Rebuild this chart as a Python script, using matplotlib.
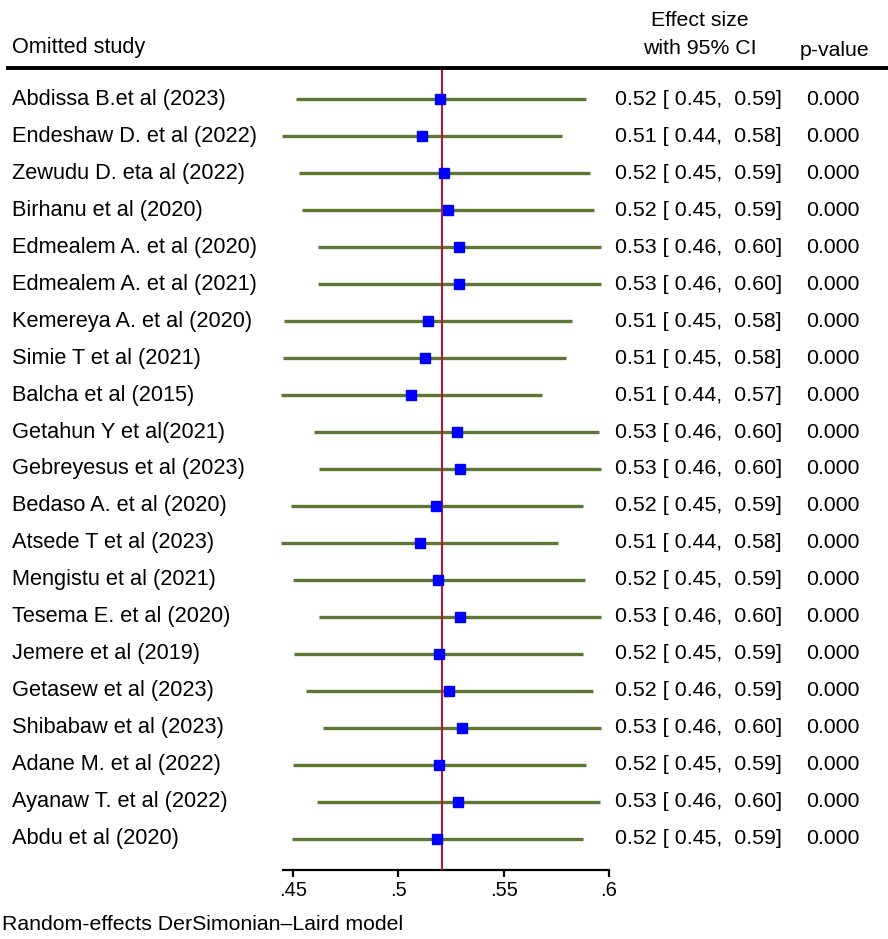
import matplotlib
matplotlib.use('Agg')
import matplotlib.pyplot as plt
from matplotlib.lines import Line2D
from matplotlib.transforms import blended_transform_factory

plt.rcParams['font.family'] = ['Liberation Sans', 'DejaVu Sans']

studies = ['Abdissa B.et al (2023)', 'Endeshaw D. et al (2022)', 'Zewudu D. eta al (2022)',
           'Birhanu et al (2020)', 'Edmealem A. et al (2020)', 'Edmealem A. et al (2021)',
           'Kemereya A. et al (2020)', 'Simie T et al (2021)', 'Balcha et al (2015)',
           'Getahun Y et al(2021)', 'Gebreyesus et al (2023)', 'Bedaso A. et al (2020)',
           'Atsede T et al (2023)', 'Mengistu et al (2021)', 'Tesema E. et al (2020)',
           'Jemere et al (2019)', 'Getasew et al (2023)', 'Shibabaw et al (2023)',
           'Adane M. et al (2022)', 'Ayanaw T. et al (2022)', 'Abdu et al (2020)']
est = [0.5200, 0.5111, 0.5216, 0.5235, 0.5288, 0.5290, 0.5143, 0.5126, 0.5061, 0.5277, 0.5291,
       0.5181, 0.5102, 0.5190, 0.5291, 0.5192, 0.5243, 0.5301, 0.5195, 0.5282, 0.5186]
lo = [0.4513, 0.4446, 0.4528, 0.4541, 0.4617, 0.4620, 0.4457, 0.4451, 0.4443, 0.4601, 0.4623,
      0.4489, 0.4445, 0.4499, 0.4623, 0.4506, 0.4562, 0.4641, 0.4499, 0.4612, 0.4494]
hi = [0.5892, 0.5778, 0.5908, 0.5927, 0.5960, 0.5963, 0.5826, 0.5797, 0.5682, 0.5953, 0.5961,
      0.5876, 0.5759, 0.5886, 0.5964, 0.5876, 0.5922, 0.5964, 0.5889, 0.5955, 0.5876]
pvals = [0.000] * 21
pooled = 0.5208
xticks = [0.45, 0.5, 0.55, 0.6]
xticklabels = ['.45', '.5', '.55', '.6']

W, H = 888, 939
fig = plt.figure(figsize=(W / 100, H / 100), dpi=100)
ax = fig.add_axes([283 / W, 1 - 870 / H, 326 / W, (870 - 68) / H])

green = '#5a7833'
n = len(studies)
rows = list(range(n))
ax.hlines(rows, lo, hi, color=green, lw=2.4, zorder=2, clip_on=False)
ax.axvline(pooled, color='#b8143f', lw=1.5, zorder=3)
ax.plot(est, rows, 's', color='#0000ff', ms=7, zorder=4, clip_on=False)

ax.set_xlim(0.4453, 0.6)
ax.set_ylim(n - 1 + 0.847, -0.847)
for s in ['left', 'right', 'top']:
    ax.spines[s].set_visible(False)
ax.spines['bottom'].set_linewidth(1.6)
ax.set_yticks([])
ax.set_xticks(xticks)
ax.set_xticklabels(xticklabels)
ax.tick_params(axis='x', length=5, width=1.6, labelsize=14.5, pad=3)

fs = 15.3
tr = blended_transform_factory(fig.transFigure, ax.transData)
for i in rows:
    ax.text(12 / W, i, studies[i], transform=tr, fontsize=15.7, va='center', ha='left')
    ax.text(615 / W, i, f'{est[i]:.2f} [ {lo[i]:.2f},  {hi[i]:.2f}]', transform=tr,
            fontsize=15.4, va='center', ha='left')
    ax.text(806 / W, i, f'{pvals[i]:.3f}', transform=tr, fontsize=fs, va='center', ha='left')

# header
fig.text(12 / W, 1 - 47 / H, 'Omitted study', fontsize=15.6, va='center', ha='left')
fig.text(700 / W, 1 - 20 / H, 'Effect size', fontsize=fs, va='center', ha='center')
fig.text(700 / W, 1 - 48 / H, 'with 95% CI', fontsize=fs, va='center', ha='center')
fig.text(835 / W, 1 - 51 / H, 'p-value', fontsize=fs, va='center', ha='center')
fig.add_artist(Line2D([8 / W, 1], [1 - 68 / H, 1 - 68 / H], color='black', lw=2.8))

fig.text(2 / W, 1 - 924 / H, 'Random-effects DerSimonian\u2013Laird model', fontsize=fs,
         va='center', ha='left')

fig.savefig('out.png', dpi=100)
